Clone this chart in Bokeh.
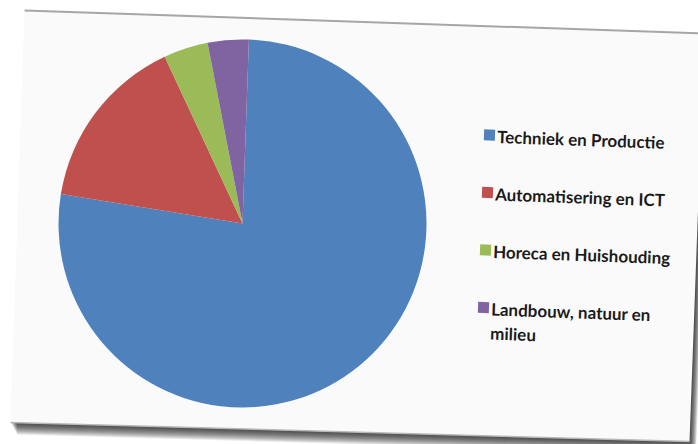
import math
from bokeh.plotting import figure
from bokeh.models import Range1d, ColumnDataSource
from bokeh.core.properties import value
from bokeh.embed import file_html
from bokeh.resources import INLINE

# ---- data ----
categories = ["Techniek en Productie", "Automatisering en ICT",
              "Horeca en Huishouding", "Landbouw, natuur en milieu"]
shares = [77.0, 15.5, 3.9, 3.6]
colors = ["#4F81BD", "#C0504D", "#9BBB59", "#8064A2"]
legend_labels = ["Techniek en Productie", "Automatisering en ICT",
                 "Horeca en Huishouding", "Landbouw, natuur en\nmilieu"]

W, H = 698, 444
def Y(y):  # screen y -> data y
    return H - y

p = figure(width=W, height=H, output_backend="svg", toolbar_location=None,
           x_range=Range1d(0, W), y_range=Range1d(0, H), min_border=0,
           background_fill_color="white", border_fill_color="white")
p.axis.visible = False
p.grid.visible = False
p.outline_line_color = None

# ---- slanted chart card with drop shadow ----
corners_x = [24, 704, 689, 10]
corners_y = [10, 33, 441, 422]
for k in range(1, 13):
    p.patch([x + 0.55 * k for x in corners_x], [Y(y + k) for y in corners_y],
            fill_color="black", fill_alpha=0.09, line_color=None)
p.patch(corners_x, [Y(y) for y in corners_y], fill_color="#fafafa", line_color=None)
p.line([corners_x[0], corners_x[1]], [Y(corners_y[0]), Y(corners_y[1])],
       line_color="#a6a6a6", line_width=2)
p.line([corners_x[3], corners_x[2]], [Y(corners_y[3]), Y(corners_y[2])],
       line_color="#b8b8b8", line_width=1.5)

# ---- pie ----
rot = math.radians(2.0)
total = sum(shares)
starts, ends = [], []
acc = 0.0
for s in shares:
    a0 = math.pi / 2 - rot - 2 * math.pi * acc / total
    acc += s
    a1 = math.pi / 2 - rot - 2 * math.pi * acc / total
    starts.append(a0)
    ends.append(a1)
src = ColumnDataSource(dict(cat=categories, share=shares, color=colors,
                            start=starts, end=ends))
p.wedge(x=242, y=Y(223), radius=184, start_angle="start", end_angle="end",
        direction="clock", fill_color="color", line_color=None, source=src)

# ---- legend (slightly rotated like the photo) ----
sq_x = [489 - 2 * i for i in range(len(categories))]
sq_y = [Y(134.5 + 57.5 * i) for i in range(len(categories))]
p.scatter(x=sq_x, y=sq_y, marker="square", size=11, angle=-rot,
          fill_color=colors, line_color=None)
p.text(x=[x + 8 for x in sq_x], y=[y + 9 for y in sq_y], text=legend_labels,
       angle=-rot, text_font=value("Lato"), text_font_style="bold",
       text_font_size="17px", text_color="#1a1a1a", text_align="left",
       text_baseline="top", text_line_height=1.15)

open("out.html", "w").write(file_html(p, INLINE))
